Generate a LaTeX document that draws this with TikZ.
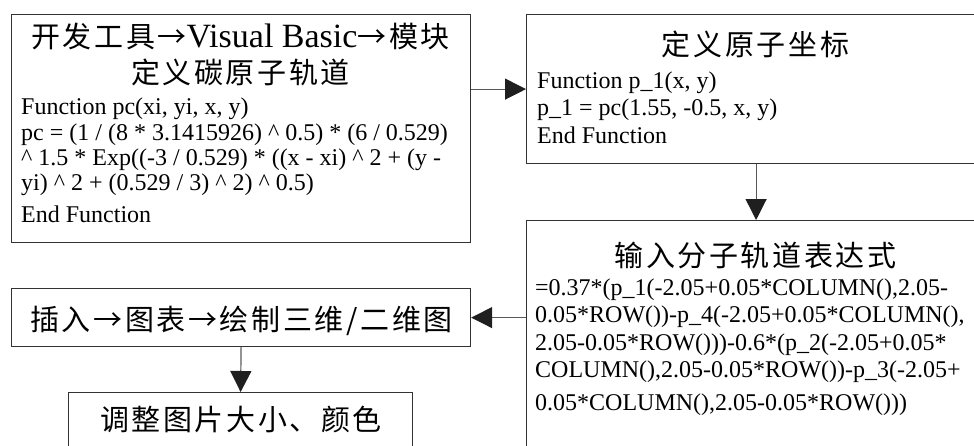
\documentclass[tikz,border=0pt]{standalone}
\usepackage{fontspec}
\setmainfont{Liberation Serif}
\newfontfamily\cjk[LetterSpace=9]{Noto Sans CJK SC}
\usetikzlibrary{arrows.meta}
\begin{document}
\begin{tikzpicture}[x=1pt,y=-1pt,
  box/.style={draw=black!80, line width=1.2pt, anchor=north west, inner sep=0pt},
  arr/.style={draw=black!65, line width=1.2pt, -{Triangle[length=21pt,width=21pt,color=black!88]}},
  ttl/.style={font=\cjk\fontsize{29}{29}\selectfont, anchor=base, inner sep=0pt},
  code/.style={font=\fontsize{24}{24}\selectfont, anchor=base west, inner sep=0pt}]
\useasboundingbox (0,0) rectangle (974,445);
\clip (0,0) rectangle (974,445);
% boxes
\node[box, minimum width=459pt, minimum height=228pt] (b1) at (11,14) {};
\node[box, minimum width=459pt, minimum height=149pt] (b2) at (526,14) {};
\node[box, minimum width=459pt, minimum height=260pt] (b3) at (526,220) {};
\node[box, minimum width=459pt, minimum height=58pt] (b4) at (11,288) {};
\node[box, minimum width=344pt, minimum height=80pt] (b5) at (68,392) {};
% box 1 texts
\node[ttl] (t1a) at (240.5,47) {开发工具→{\rmfamily\fontsize{34}{34}\selectfont Visual Basic}→模块};
\node[ttl] (t1b) at (240.5,83) {定义碳原子轨道};
\node[code] (c1a) at (21,114) {Function pc(xi, yi, x, y)};
\node[code] (c1b) at (21,140) {pc = (1 / (8 * 3.1415926) \textasciicircum{} 0.5) * (6 / 0.529)};
\node[code] (c1c) at (21,165) {\textasciicircum{} 1.5 * Exp((-3 / 0.529) * ((x - xi) \textasciicircum{} 2 + (y -};
\node[code] (c1d) at (21,190) {yi) \textasciicircum{} 2 + (0.529 / 3) \textasciicircum{} 2) \textasciicircum{} 0.5)};
\node[code] (c1e) at (21,222) {End Function};
% box 2 texts
\node[ttl] (t2) at (755.5,55) {定义原子坐标};
\node[code] (c2a) at (537,88) {Function p\_1(x, y)};
\node[code] (c2b) at (537,115) {p\_1 = pc(1.55, -0.5, x, y)};
\node[code] (c2c) at (537,143) {End Function};
% box 3 texts
\node[ttl] (t3) at (755.5,266) {输入分子轨道表达式};
\node[code] (c3a) at (535,295) {=0.37*(p\_1(-2.05+0.05*COLUMN(),2.05-};
\node[code] (c3b) at (535,322) {0.05*ROW())-p\_4(-2.05+0.05*COLUMN(),};
\node[code] (c3c) at (535,350) {2.05-0.05*ROW()))-0.6*(p\_2(-2.05+0.05*};
\node[code] (c3d) at (535,377) {COLUMN(),2.05-0.05*ROW())-p\_3(-2.05+};
\node[code] (c3e) at (535,410) {0.05*COLUMN(),2.05-0.05*ROW()))};
% box 4 and 5 texts
\node[ttl] (t4) at (241.5,330) {插入→图表→绘制三维/二维图};
\node[ttl] (t5) at (241,430) {调整图片大小、颜色};
% connectors
\draw[arr] (b2.west -| b1.east) -- (b2.west);
\draw[arr] (b2.south) -- (b3.north);
\draw[arr] (b4.east -| b3.west) -- (b4.east);
\draw[arr] (b4.south) -- (b5.north);
\end{tikzpicture}
\end{document}
